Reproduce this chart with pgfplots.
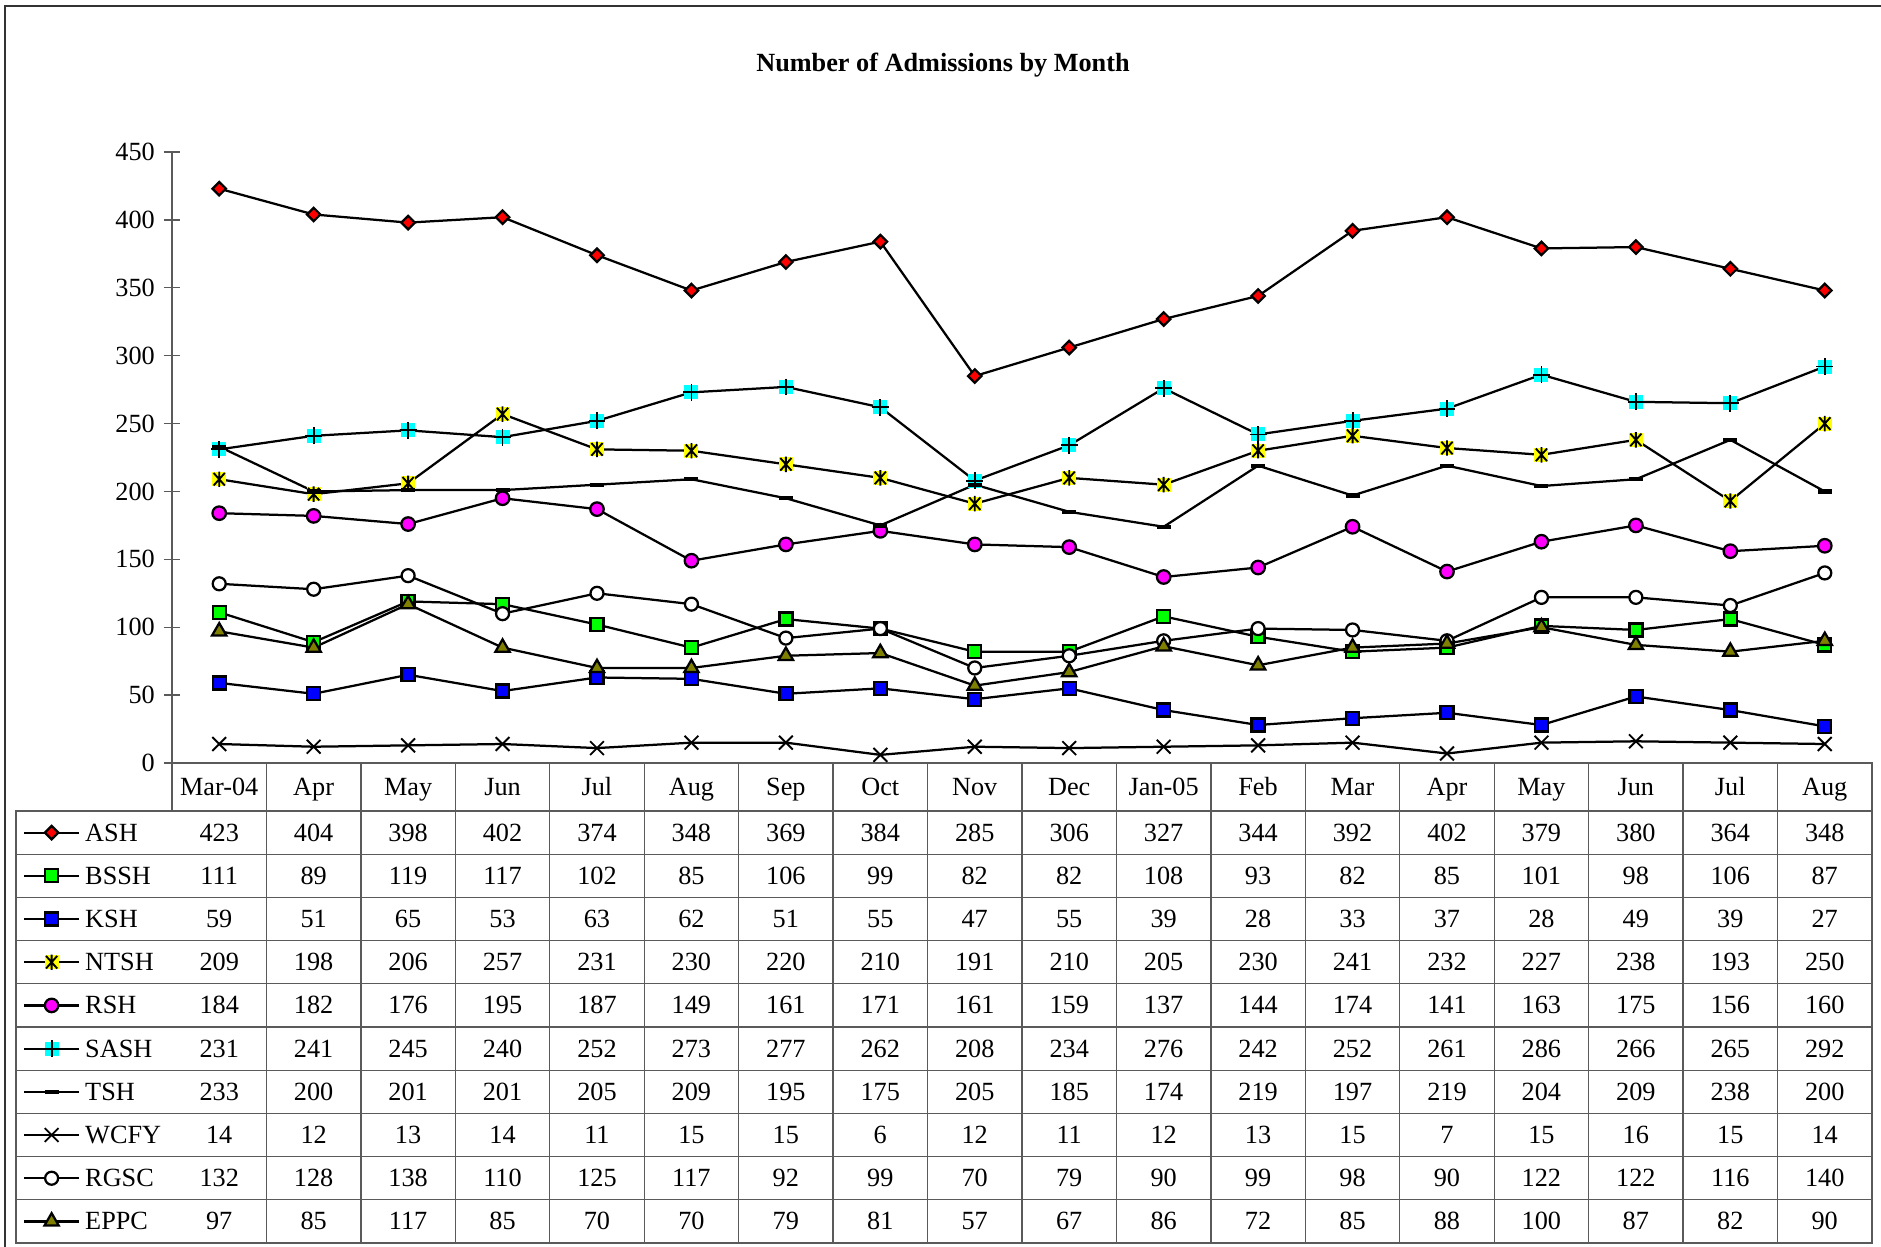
\documentclass[border=0pt]{standalone}
\usepackage{fontspec}
\setmainfont{Liberation Serif}
\usepackage{pgfplots}
\usepackage{pgfplotstable}
\pgfplotsset{compat=1.18}

\definecolor{gridgray}{HTML}{5A5A5A}
\definecolor{framegray}{HTML}{333333}
\definecolor{olivemk}{HTML}{808000}
\definecolor{xred}{HTML}{FF0000}
\definecolor{xgreen}{HTML}{00FF00}
\definecolor{xblue}{HTML}{0000FF}
\definecolor{xyellow}{HTML}{FFFF00}
\definecolor{xmagenta}{HTML}{FF00FF}
\definecolor{xcyan}{HTML}{00FFFF}
\newcommand\tabfont{\rmfamily\fontsize{10.5}{12}\selectfont}

% monthly admissions, one column per hospital
\pgfplotstableread{
x  ASH BSSH KSH NTSH RSH SASH TSH WCFY RGSC EPPC
0  423 111  59  209  184 231  233 14   132  97
1  404 89   51  198  182 241  200 12   128  85
2  398 119  65  206  176 245  201 13   138  117
3  402 117  53  257  195 240  201 14   110  85
4  374 102  63  231  187 252  205 11   125  70
5  348 85   62  230  149 273  209 15   117  70
6  369 106  51  220  161 277  195 15   92   79
7  384 99   55  210  171 262  175 6    99   81
8  285 82   47  191  161 208  205 12   70   57
9  306 82   55  210  159 234  185 11   79   67
10 327 108  39  205  137 276  174 12   90   86
11 344 93   28  230  144 242  219 13   99   72
12 392 82   33  241  174 252  197 15   98   85
13 402 85   37  232  141 261  219 7    90   88
14 379 101  28  227  163 286  204 15   122  100
15 380 98   49  238  175 266  209 16   122  87
16 364 106  39  193  156 265  238 15   116  82
17 348 87   27  250  160 292  200 14   140  90
}\admissions

% Excel-style markers
\pgfdeclareplotmark{ntsh}{%
  \begin{pgfscope}
  \pgfsetfillcolor{xyellow}%
  \pgfpathrectangle{\pgfqpoint{-\pgfplotmarksize}{-\pgfplotmarksize}}{\pgfqpoint{2\pgfplotmarksize}{2\pgfplotmarksize}}%
  \pgfusepathqfill
  \end{pgfscope}
  \pgfpathmoveto{\pgfqpoint{0pt}{1.1\pgfplotmarksize}}\pgfpathlineto{\pgfqpoint{0pt}{-1.1\pgfplotmarksize}}%
  \pgfpathmoveto{\pgfqpoint{-.8\pgfplotmarksize}{.9\pgfplotmarksize}}\pgfpathlineto{\pgfqpoint{.8\pgfplotmarksize}{-.9\pgfplotmarksize}}%
  \pgfpathmoveto{\pgfqpoint{-.8\pgfplotmarksize}{-.9\pgfplotmarksize}}\pgfpathlineto{\pgfqpoint{.8\pgfplotmarksize}{.9\pgfplotmarksize}}%
  \pgfusepathqstroke}
\pgfdeclareplotmark{sash}{%
  \begin{pgfscope}
  \pgfsetfillcolor{xcyan}%
  \pgfpathrectangle{\pgfqpoint{-\pgfplotmarksize}{-\pgfplotmarksize}}{\pgfqpoint{2\pgfplotmarksize}{2\pgfplotmarksize}}%
  \pgfusepathqfill
  \end{pgfscope}
  \pgfpathmoveto{\pgfqpoint{0pt}{1.2\pgfplotmarksize}}\pgfpathlineto{\pgfqpoint{0pt}{-1.2\pgfplotmarksize}}%
  \pgfpathmoveto{\pgfqpoint{-1.2\pgfplotmarksize}{0pt}}\pgfpathlineto{\pgfqpoint{1.2\pgfplotmarksize}{0pt}}%
  \pgfusepathqstroke}
\pgfdeclareplotmark{tsh}{%
  \pgfpathrectangle{\pgfqpoint{-\pgfplotmarksize}{-.3\pgfplotmarksize}}{\pgfqpoint{2\pgfplotmarksize}{.6\pgfplotmarksize}}%
  \pgfusepathqfill}

\begin{document}
\begin{tikzpicture}
\useasboundingbox (0pt,0pt) rectangle (752.4pt,-498.4pt);
% frame, title and data table (pixel units)
\begin{scope}[x=0.4pt,y=-0.4pt]
  \draw[framegray, line width=0.8pt] (5,1300) -- (5,6) -- (1900,6);
  \node[font=\bfseries\tabfont, anchor=base, inner sep=0pt] at (943,71) {Number of Admissions by Month};
  \draw[gridgray, line width=0.55pt] (172,763) -- (1872,763) -- (1872,1243) -- (16,1243) -- (16,811) -- (172,811) -- (172,763);
  \foreach \k in {1,...,17}
    \draw[gridgray, line width=0.55pt] ({172+94.444*\k},763) -- ({172+94.444*\k},1243);
  \foreach \k in {0,...,9}
    \draw[gridgray, line width=0.55pt] (16,{811+43.2*\k}) -- (1872,{811+43.2*\k});
  \foreach \m [count=\k from 0] in {Mar-04,Apr,May,Jun,Jul,Aug,Sep,Oct,Nov,Dec,Jan-05,Feb,Mar,Apr,May,Jun,Jul,Aug}
    \node[font=\tabfont, anchor=base, inner sep=0pt] at ({219.2+94.444*\k},795) {\m};
  \foreach \name [count=\j from 0] in {ASH,BSSH,KSH,NTSH,RSH,SASH,TSH,WCFY,RGSC,EPPC}
    \foreach \r in {0,...,17}{
      \pgfplotstablegetelem{\r}{\name}\of\admissions
      \node[font=\tabfont, anchor=base, inner sep=0pt] at ({219.2+94.444*\r},{841+43.2*\j}) {\pgfplotsretval};
    }
\end{scope}

\begin{axis}[
  at={(68.8pt,-305.2pt)}, anchor=south west,
  scale only axis, width=680pt, height=244.4pt,
  xmin=-0.5, xmax=17.5, ymin=0, ymax=450,
  axis lines=left,
  axis line style={-, draw=gridgray, line width=0.55pt},
  xtick=\empty,
  ytick={0,50,...,450},
  yticklabel={\textrm{\pgfmathparse{int(\tick)}\pgfmathresult}},
  tick align=center,
  major tick length=6.7pt,
  tick style={gridgray, line width=0.55pt},
  yticklabel style={font=\tabfont},
  clip=false,
  every axis plot/.append style={black, line width=0.9pt, mark options={solid, line width=0.75pt}},
  legend image code/.code={\draw[mark repeat=2,mark phase=2,#1] plot coordinates {(0pt,0pt) (11pt,0pt) (22pt,0pt)};},
  legend style={at={(-0.08765,-0.07856)}, anchor=north west, draw=none, fill=none,
    inner sep=0pt, outer sep=0pt, row sep=0pt, column sep=2pt, font=\tabfont,
    nodes={inner sep=0pt, text height=12.04pt, text depth=5.24pt}},
  legend cell align=left,
]
\addplot[mark=square*, mark size=1.9pt, mark options={rotate=45, fill=xred}] table[x=x,y=ASH]{\admissions};
\addlegendentry{ASH}
\addplot[mark=square*, mark size=2.6pt, mark options={fill=xgreen}] table[x=x,y=BSSH]{\admissions};
\addlegendentry{BSSH}
\addplot[mark=square*, mark size=2.6pt, mark options={fill=xblue}] table[x=x,y=KSH]{\admissions};
\addlegendentry{KSH}
\addplot[mark=ntsh, mark size=2.8pt] table[x=x,y=NTSH]{\admissions};
\addlegendentry{NTSH}
\addplot[mark=*, mark size=2.7pt, mark options={fill=xmagenta}] table[x=x,y=RSH]{\admissions};
\addlegendentry{RSH}
\addplot[mark=sash, mark size=2.8pt] table[x=x,y=SASH]{\admissions};
\addlegendentry{SASH}
\addplot[mark=tsh, mark size=2.8pt, mark options={fill=black}] table[x=x,y=TSH]{\admissions};
\addlegendentry{TSH}
\addplot[mark=x, mark size=3.9pt] table[x=x,y=WCFY]{\admissions};
\addlegendentry{WCFY}
\addplot[mark=*, mark size=2.6pt, mark options={fill=white}] table[x=x,y=RGSC]{\admissions};
\addlegendentry{RGSC}
\addplot[mark=triangle*, mark size=3.3pt, mark options={fill=olivemk}] table[x=x,y=EPPC]{\admissions};
\addlegendentry{EPPC}
\end{axis}
\end{tikzpicture}
\end{document}
